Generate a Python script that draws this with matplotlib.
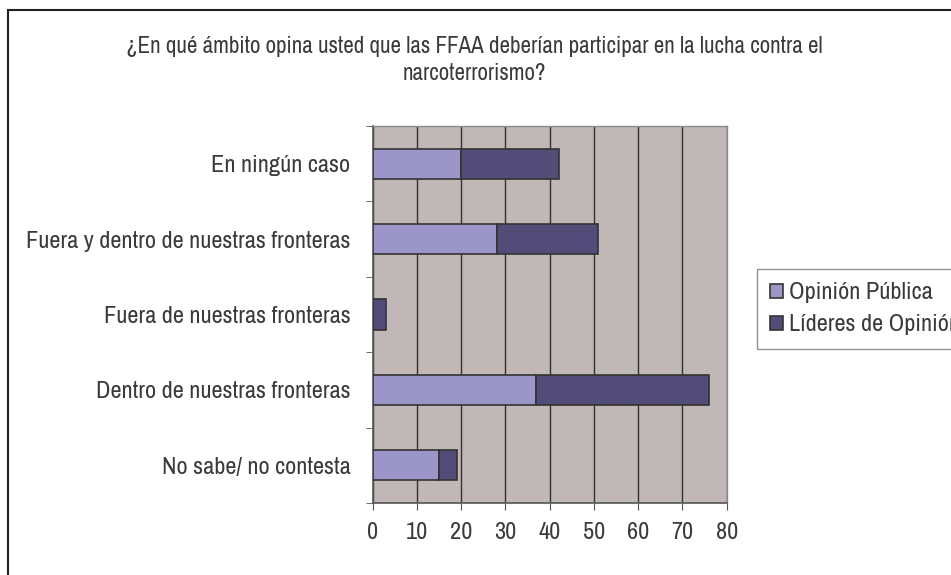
import matplotlib
matplotlib.use("Agg")
import matplotlib.pyplot as plt
from matplotlib.patches import Rectangle
import numpy as np

plt.rcParams['font.family'] = ['Archivo Narrow', 'Roboto Condensed', 'Liberation Sans', 'DejaVu Sans']

# datos (de abajo hacia arriba)
categorias = ['No sabe/ no contesta', 'Dentro de nuestras fronteras',
              'Fuera de nuestras fronteras', 'Fuera y dentro de nuestras fronteras',
              'En ningún caso']
opinion_publica = [15, 37, 0, 28, 20]
lideres_opinion = [4, 39, 3, 23, 22]
series = ['Opinión Pública', 'Líderes de Opinión']
xticks = [0, 10, 20, 30, 40, 50, 60, 70, 80]

c_op = '#9C95C8'
c_lid = '#544C78'
fondo = '#C0B8B6'
c_txt = '#3a3a3a'

W, H = 951, 575
fig = plt.figure(figsize=(W / 100, H / 100), dpi=100)
ax = fig.add_axes([372.7 / W, 1 - 503 / H, (726.7 - 372.7) / W, (503 - 126) / H])
ax.set_facecolor(fondo)

y = np.arange(len(categorias))
ax.barh(y, opinion_publica, height=0.4, color=c_op, edgecolor='#333333', lw=1.2,
        label=series[0], zorder=3)
ax.barh(y, lideres_opinion, left=opinion_publica, height=0.4, color=c_lid,
        edgecolor='#333333', lw=1.2, label=series[1], zorder=3)

ax.set_xlim(0, 80)
ax.set_ylim(-0.5, len(categorias) - 0.5)
ax.set_xticks(xticks)
ax.set_xticklabels([str(v) for v in xticks], fontsize=17.5, color=c_txt)
ax.set_yticks(y)
ax.set_yticklabels(categorias, fontsize=17.5, color=c_txt)
ax.set_yticks(np.arange(-0.5, len(categorias)), minor=True)
ax.tick_params(axis='y', which='major', length=0, pad=16)
ax.tick_params(axis='y', which='minor', length=5, color='#555555')
ax.tick_params(axis='x', length=5, color='#555555', pad=9)
ax.grid(axis='x', color='#333333', lw=1, zorder=1)

for s in ['top', 'right']:
    ax.spines[s].set_color('#8a8a8a')
    ax.spines[s].set_linewidth(1)
for s in ['left', 'bottom']:
    ax.spines[s].set_color('#555555')
    ax.spines[s].set_linewidth(1.2)

fig.text(474 / W, 1 - 60 / H,
         '¿En qué ámbito opina usted que las FFAA deberían participar en la lucha contra el\nnarcoterrorismo?',
         ha='center', va='center', fontsize=16.6, color=c_txt, linespacing=1.4)

leg = fig.legend(loc='upper left', bbox_to_anchor=(757 / W, 1 - 269 / H),
                 fontsize=17.5, frameon=True, fancybox=False, edgecolor='#777777',
                 handlelength=0.5, handleheight=0.5, handletextpad=0.25,
                 labelspacing=0.45, borderpad=0.55, borderaxespad=0)
leg.get_frame().set_linewidth(1)
for t in leg.get_texts():
    t.set_color(c_txt)

fig.add_artist(Rectangle((8 / W, -0.02), 1.2, (H - 10) / H + 0.02,
                         transform=fig.transFigure, fill=False,
                         edgecolor='#222222', lw=1.5, clip_on=False))

fig.savefig('out.png', dpi=100)
